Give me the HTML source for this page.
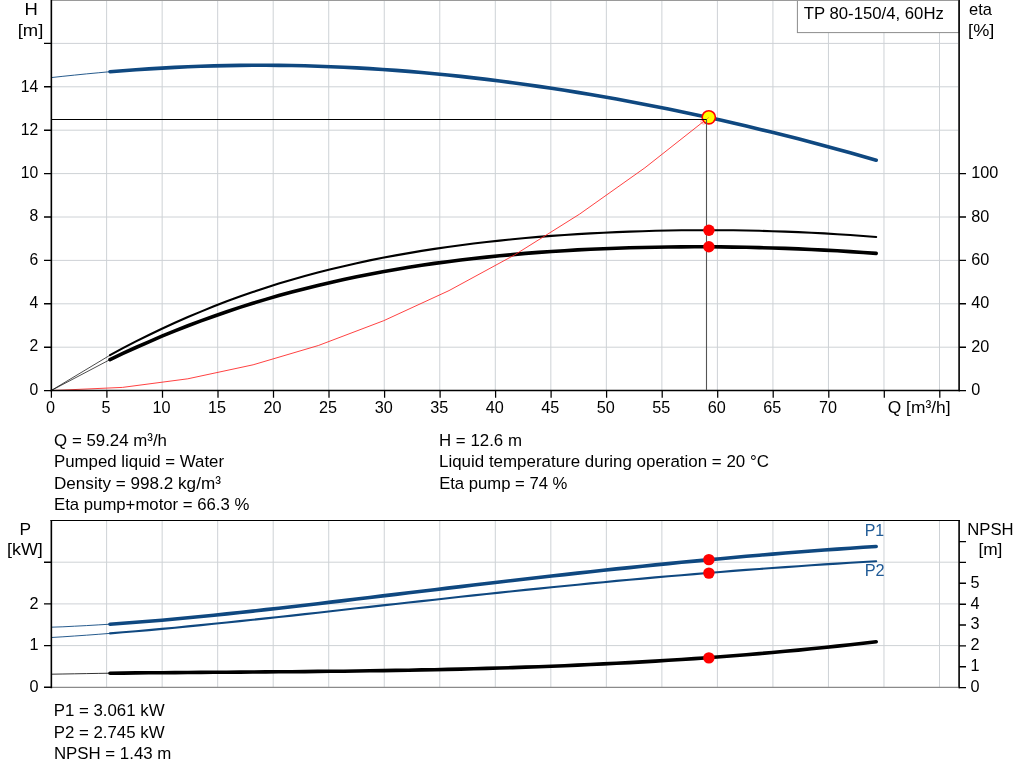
<!DOCTYPE html>
<html><head><meta charset="utf-8"><title>TP 80-150/4, 60Hz</title>
<style>html,body{margin:0;padding:0;background:#fff}svg{display:block}svg text{font-family:"Liberation Sans",Arial,sans-serif}</style></head>
<body>
<svg width="1024" height="781" viewBox="0 0 1024 781" font-size="17">
<rect width="1024" height="781" fill="#fff"/>
<path d="M106.62,1V390 M162.15,1V390 M217.68,1V390 M273.20,1V390 M328.73,1V390 M384.25,1V390 M439.78,1V390 M495.30,1V390 M550.83,1V390 M606.35,1V390 M661.88,1V390 M717.40,1V390 M772.93,1V390 M828.45,1V390 M883.98,1V390 M939.50,1V390 M52,347.20H958 M52,303.80H958 M52,260.40H958 M52,217.00H958 M52,173.60H958 M52,130.20H958 M52,86.80H958 M52,43.40H958" stroke="#ced2d6" stroke-width="1" fill="none"/>
<rect x="797.4" y="-1" width="161.6" height="33.6" fill="#fff" stroke="#8c8c8c" stroke-width="1"/>
<path d="M52,0.5H958" stroke="#9a9a9a" stroke-width="1" fill="none"/>
<text transform="translate(803.81,18.6) scale(0.9837,1)" fill="#000">TP 80-150/4, 60Hz</text>
<path d="M51.1,77.6 L62.9,76.3 L74.6,75.1 L86.4,73.9 L98.2,72.8 L110.0,71.7" stroke="#0f4880" stroke-width="0.9" fill="none"/>
<path d="M110.0,71.7 L122.9,70.7 L135.9,69.7 L148.9,68.9 L161.9,68.1 L174.9,67.4 L187.9,66.8 L200.9,66.3 L213.9,65.9 L226.8,65.6 L239.8,65.4 L252.8,65.3 L265.8,65.3 L278.8,65.4 L291.8,65.5 L304.8,65.8 L317.8,66.2 L330.7,66.7 L343.7,67.2 L356.7,67.9 L369.7,68.6 L382.7,69.5 L395.7,70.4 L408.7,71.4 L421.6,72.5 L434.6,73.7 L447.6,75.0 L460.6,76.4 L473.6,77.9 L486.6,79.4 L499.6,81.0 L512.6,82.7 L525.5,84.5 L538.5,86.4 L551.5,88.3 L564.5,90.3 L577.5,92.4 L590.5,94.6 L603.5,96.8 L616.5,99.1 L629.4,101.5 L642.4,103.9 L655.4,106.5 L668.4,109.1 L681.4,111.7 L694.4,114.5 L707.4,117.3 L720.4,120.1 L733.3,123.1 L746.3,126.1 L759.3,129.2 L772.3,132.3 L785.3,135.5 L798.3,138.8 L811.3,142.2 L824.3,145.7 L837.2,149.2 L850.2,152.8 L863.2,156.5 L876.2,160.2" stroke="#0f4880" stroke-width="3.6" stroke-linecap="round" fill="none"/>
<path d="M51.1,390.6L110.0,355.2M51.1,390.6L110.0,359.6" stroke="#000" stroke-width="0.7" fill="none"/>
<path d="M110.0,355.2 L122.9,348.2 L135.9,341.4 L148.9,335.0 L161.9,328.7 L174.9,322.8 L187.9,317.0 L200.9,311.6 L213.9,306.3 L226.8,301.3 L239.8,296.6 L252.8,292.1 L265.8,287.7 L278.8,283.6 L291.8,279.8 L304.8,276.1 L317.8,272.6 L330.7,269.3 L343.7,266.2 L356.7,263.2 L369.7,260.4 L382.7,257.8 L395.7,255.4 L408.7,253.1 L421.6,250.9 L434.6,248.9 L447.6,247.0 L460.6,245.2 L473.6,243.5 L486.6,242.0 L499.6,240.6 L512.6,239.3 L525.5,238.0 L538.5,236.9 L551.5,235.9 L564.5,235.0 L577.5,234.1 L590.5,233.4 L603.5,232.7 L616.5,232.1 L629.4,231.6 L642.4,231.2 L655.4,230.8 L668.4,230.5 L681.4,230.3 L694.4,230.2 L707.4,230.2 L720.4,230.2 L733.3,230.3 L746.3,230.5 L759.3,230.8 L772.3,231.2 L785.3,231.6 L798.3,232.1 L811.3,232.7 L824.3,233.4 L837.2,234.2 L850.2,235.0 L863.2,236.0 L876.2,237.0" stroke="#000" stroke-width="2.1" stroke-linecap="round" fill="none"/>
<path d="M110.0,359.6 L122.9,353.4 L135.9,347.5 L148.9,341.8 L161.9,336.2 L174.9,330.9 L187.9,325.8 L200.9,320.9 L213.9,316.2 L226.8,311.7 L239.8,307.4 L252.8,303.3 L265.8,299.4 L278.8,295.6 L291.8,292.1 L304.8,288.7 L317.8,285.5 L330.7,282.4 L343.7,279.5 L356.7,276.8 L369.7,274.2 L382.7,271.8 L395.7,269.5 L408.7,267.3 L421.6,265.3 L434.6,263.4 L447.6,261.7 L460.6,260.0 L473.6,258.5 L486.6,257.1 L499.6,255.8 L512.6,254.6 L525.5,253.4 L538.5,252.4 L551.5,251.5 L564.5,250.7 L577.5,249.9 L590.5,249.3 L603.5,248.7 L616.5,248.2 L629.4,247.8 L642.4,247.5 L655.4,247.2 L668.4,247.0 L681.4,246.9 L694.4,246.8 L707.4,246.8 L720.4,246.9 L733.3,247.1 L746.3,247.3 L759.3,247.6 L772.3,248.0 L785.3,248.4 L798.3,248.9 L811.3,249.5 L824.3,250.1 L837.2,250.8 L850.2,251.6 L863.2,252.5 L876.2,253.4" stroke="#000" stroke-width="3.6" stroke-linecap="round" fill="none"/>
<polyline points="51.1,390.6 122.5,387.4 187.8,378.8 253.1,364.8 318.4,345.5 383.7,320.7 449.0,290.6 514.3,255.1 579.6,214.1 644.9,167.8 709.0,117.2" stroke="#ff2020" stroke-width="0.85" fill="none"/>
<path d="M51.35,0V391.3M959.1,0V391.3" stroke="#000" stroke-width="1.6" fill="none"/>
<path d="M50.5,390.6H960" stroke="#000" stroke-width="1.5" fill="none"/>
<path d="M44,390.6H51 M44,347.2H51 M44,303.8H51 M44,260.4H51 M44,217.0H51 M44,173.6H51 M44,130.2H51 M44,86.8H51 M44,43.4H51 M959,390.6H966 M959,347.2H966 M959,303.8H966 M959,260.4H966 M959,217.0H966 M959,173.6H966" stroke="#000" stroke-width="1.4" fill="none"/>
<path d="M51.4,390V397.7 M106.9,390V397.7 M162.5,390V397.7 M218.0,390V397.7 M273.5,390V397.7 M329.0,390V397.7 M384.6,390V397.7 M440.1,390V397.7 M495.6,390V397.7 M551.1,390V397.7 M606.6,390V397.7 M662.2,390V397.7 M717.7,390V397.7 M773.2,390V397.7 M828.8,390V397.7 M884.3,390V397.7 M939.8,390V397.7" stroke="#000" stroke-width="1.25" fill="none"/>
<circle cx="703.6" cy="121.4" r="2.7" fill="none" stroke="#ff7070" stroke-width="0.7"/>
<circle cx="708.8" cy="117.3" r="6.6" fill="#ffff00" stroke="#ff0000" stroke-width="1.6"/>
<path d="M706.4,119.6L708.8,117.3" stroke="#ff6030" stroke-width="0.8"/>
<path d="M52,119.5H706.9" stroke="#000" stroke-width="1.1" fill="none"/>
<path d="M706.5,119.5V390" stroke="#555" stroke-width="1.1" fill="none"/>
<circle cx="708.9" cy="230.2" r="5.7" fill="#ff0000"/>
<circle cx="708.9" cy="246.8" r="5.7" fill="#ff0000"/>
<text transform="translate(24.38,14.7) scale(1.0842,1)" fill="#000">H</text>
<text transform="translate(17.70,35.9) scale(1.0849,1)" fill="#000">[m]</text>
<text transform="translate(38.2,394.5) scale(0.925,1)" text-anchor="end" fill="#000">0</text>
<text transform="translate(38.2,351.2) scale(0.925,1)" text-anchor="end" fill="#000">2</text>
<text transform="translate(38.2,307.9) scale(0.925,1)" text-anchor="end" fill="#000">4</text>
<text transform="translate(38.2,264.7) scale(0.925,1)" text-anchor="end" fill="#000">6</text>
<text transform="translate(38.2,221.4) scale(0.925,1)" text-anchor="end" fill="#000">8</text>
<text transform="translate(38.2,178.1) scale(0.925,1)" text-anchor="end" fill="#000">10</text>
<text transform="translate(38.2,134.8) scale(0.925,1)" text-anchor="end" fill="#000">12</text>
<text transform="translate(38.2,91.5) scale(0.925,1)" text-anchor="end" fill="#000">14</text>
<text transform="translate(50.5,412.7) scale(0.955,1)" text-anchor="middle" fill="#000">0</text>
<text transform="translate(106.0,412.7) scale(0.955,1)" text-anchor="middle" fill="#000">5</text>
<text transform="translate(161.6,412.7) scale(0.955,1)" text-anchor="middle" fill="#000">10</text>
<text transform="translate(217.1,412.7) scale(0.955,1)" text-anchor="middle" fill="#000">15</text>
<text transform="translate(272.6,412.7) scale(0.955,1)" text-anchor="middle" fill="#000">20</text>
<text transform="translate(328.1,412.7) scale(0.955,1)" text-anchor="middle" fill="#000">25</text>
<text transform="translate(383.7,412.7) scale(0.955,1)" text-anchor="middle" fill="#000">30</text>
<text transform="translate(439.2,412.7) scale(0.955,1)" text-anchor="middle" fill="#000">35</text>
<text transform="translate(494.7,412.7) scale(0.955,1)" text-anchor="middle" fill="#000">40</text>
<text transform="translate(550.2,412.7) scale(0.955,1)" text-anchor="middle" fill="#000">45</text>
<text transform="translate(605.8,412.7) scale(0.955,1)" text-anchor="middle" fill="#000">50</text>
<text transform="translate(661.3,412.7) scale(0.955,1)" text-anchor="middle" fill="#000">55</text>
<text transform="translate(716.8,412.7) scale(0.955,1)" text-anchor="middle" fill="#000">60</text>
<text transform="translate(772.3,412.7) scale(0.955,1)" text-anchor="middle" fill="#000">65</text>
<text transform="translate(827.9,412.7) scale(0.955,1)" text-anchor="middle" fill="#000">70</text>
<text transform="translate(887.78,413.0) scale(1.0219,1)" fill="#000">Q [m³/h]</text>
<text transform="translate(969.12,14.7) scale(0.9696,1)" fill="#000">eta</text>
<text transform="translate(968.12,35.9) scale(1.0679,1)" fill="#000">[%]</text>
<text transform="translate(971.2,395.2) scale(0.955,1)" text-anchor="start" fill="#000">0</text>
<text transform="translate(971.2,351.8) scale(0.955,1)" text-anchor="start" fill="#000">20</text>
<text transform="translate(971.2,308.4) scale(0.955,1)" text-anchor="start" fill="#000">40</text>
<text transform="translate(971.2,265.0) scale(0.955,1)" text-anchor="start" fill="#000">60</text>
<text transform="translate(971.2,221.6) scale(0.955,1)" text-anchor="start" fill="#000">80</text>
<text transform="translate(971.2,178.2) scale(0.955,1)" text-anchor="start" fill="#000">100</text>
<text transform="translate(54.11,445.9) scale(0.9920,1)" fill="#000">Q = 59.24 m³/h</text>
<text transform="translate(54.01,467.2) scale(0.9900,1)" fill="#000">Pumped liquid = Water</text>
<text transform="translate(53.99,488.5) scale(1.0067,1)" fill="#000">Density = 998.2 kg/m³</text>
<text transform="translate(54.02,509.8) scale(0.9847,1)" fill="#000">Eta pump+motor = 66.3 %</text>
<text transform="translate(439.01,445.9) scale(0.9926,1)" fill="#000">H = 12.6 m</text>
<text transform="translate(439.01,467.2) scale(0.9964,1)" fill="#000">Liquid temperature during operation = 20 °C</text>
<text transform="translate(439.13,488.5) scale(0.9806,1)" fill="#000">Eta pump = 74 %</text>
<path d="M106.62,521V687 M162.15,521V687 M217.68,521V687 M273.20,521V687 M328.73,521V687 M384.25,521V687 M439.78,521V687 M495.30,521V687 M550.83,521V687 M606.35,521V687 M661.88,521V687 M717.40,521V687 M772.93,521V687 M828.45,521V687 M883.98,521V687 M939.50,521V687 M52,645.60H958 M52,603.90H958 M52,562.20H958" stroke="#ced2d6" stroke-width="1" fill="none"/>
<path d="M52,687.4H958" stroke="#8a8a8a" stroke-width="1.1" fill="none"/>
<path d="M51.1,627.2 L62.9,626.8 L74.6,626.2 L86.4,625.6 L98.2,624.9 L110.0,624.2" stroke="#0f4880" stroke-width="0.9" fill="none"/>
<path d="M51.1,637.5 L62.9,636.8 L74.6,636.0 L86.4,635.2 L98.2,634.3 L110.0,633.4" stroke="#0f4880" stroke-width="0.9" fill="none"/>
<path d="M51.1,674.2 L62.9,674.0 L74.6,673.8 L86.4,673.6 L98.2,673.4 L110.0,673.2" stroke="#000" stroke-width="0.8" fill="none"/>
<path d="M110.0,624.2 L122.9,623.3 L135.9,622.3 L148.9,621.3 L161.9,620.2 L174.9,619.0 L187.9,617.8 L200.9,616.5 L213.9,615.2 L226.8,613.9 L239.8,612.5 L252.8,611.1 L265.8,609.6 L278.8,608.2 L291.8,606.7 L304.8,605.2 L317.8,603.7 L330.7,602.1 L343.7,600.6 L356.7,599.0 L369.7,597.5 L382.7,595.9 L395.7,594.4 L408.7,592.8 L421.6,591.2 L434.6,589.7 L447.6,588.1 L460.6,586.6 L473.6,585.0 L486.6,583.5 L499.6,582.0 L512.6,580.5 L525.5,579.0 L538.5,577.5 L551.5,576.0 L564.5,574.6 L577.5,573.1 L590.5,571.7 L603.5,570.3 L616.5,568.9 L629.4,567.6 L642.4,566.2 L655.4,564.9 L668.4,563.6 L681.4,562.3 L694.4,561.1 L707.4,559.9 L720.4,558.7 L733.3,557.5 L746.3,556.3 L759.3,555.2 L772.3,554.1 L785.3,553.0 L798.3,552.0 L811.3,551.0 L824.3,550.0 L837.2,549.1 L850.2,548.2 L863.2,547.3 L876.2,546.5" stroke="#0f4880" stroke-width="3.6" stroke-linecap="round" fill="none"/>
<path d="M110.0,633.4 L122.9,632.3 L135.9,631.2 L148.9,630.1 L161.9,628.9 L174.9,627.7 L187.9,626.4 L200.9,625.1 L213.9,623.8 L226.8,622.5 L239.8,621.1 L252.8,619.8 L265.8,618.4 L278.8,617.0 L291.8,615.6 L304.8,614.1 L317.8,612.7 L330.7,611.2 L343.7,609.8 L356.7,608.3 L369.7,606.9 L382.7,605.4 L395.7,604.0 L408.7,602.5 L421.6,601.1 L434.6,599.7 L447.6,598.2 L460.6,596.8 L473.6,595.4 L486.6,594.0 L499.6,592.6 L512.6,591.3 L525.5,589.9 L538.5,588.6 L551.5,587.3 L564.5,586.0 L577.5,584.7 L590.5,583.4 L603.5,582.2 L616.5,580.9 L629.4,579.7 L642.4,578.6 L655.4,577.4 L668.4,576.3 L681.4,575.2 L694.4,574.1 L707.4,573.0 L720.4,572.0 L733.3,570.9 L746.3,569.9 L759.3,569.0 L772.3,568.0 L785.3,567.1 L798.3,566.2 L811.3,565.3 L824.3,564.4 L837.2,563.6 L850.2,562.8 L863.2,562.0 L876.2,561.2" stroke="#0f4880" stroke-width="2.1" stroke-linecap="round" fill="none"/>
<path d="M110.0,673.2 L122.9,673.1 L135.9,672.9 L148.9,672.8 L161.9,672.7 L174.9,672.6 L187.9,672.5 L200.9,672.4 L213.9,672.3 L226.8,672.2 L239.8,672.1 L252.8,672.0 L265.8,671.9 L278.8,671.8 L291.8,671.7 L304.8,671.6 L317.8,671.4 L330.7,671.3 L343.7,671.2 L356.7,671.0 L369.7,670.8 L382.7,670.6 L395.7,670.4 L408.7,670.2 L421.6,669.9 L434.6,669.7 L447.6,669.4 L460.6,669.1 L473.6,668.7 L486.6,668.4 L499.6,668.0 L512.6,667.6 L525.5,667.1 L538.5,666.7 L551.5,666.2 L564.5,665.7 L577.5,665.1 L590.5,664.5 L603.5,663.9 L616.5,663.3 L629.4,662.6 L642.4,661.9 L655.4,661.1 L668.4,660.3 L681.4,659.5 L694.4,658.6 L707.4,657.7 L720.4,656.8 L733.3,655.8 L746.3,654.7 L759.3,653.6 L772.3,652.5 L785.3,651.3 L798.3,650.1 L811.3,648.8 L824.3,647.5 L837.2,646.1 L850.2,644.7 L863.2,643.2 L876.2,641.7" stroke="#000" stroke-width="3.6" stroke-linecap="round" fill="none"/>
<path d="M50.5,520.5H960" stroke="#000" stroke-width="1.2" fill="none"/>
<path d="M51.35,520V688.2M959.1,520V688.2" stroke="#000" stroke-width="1.6" fill="none"/>
<path d="M44,687.3H51 M44,645.6H51 M44,603.9H51 M44,562.2H51 M959,687.6H966 M959,666.7H966 M959,645.9H966 M959,625.0H966 M959,604.2H966 M959,583.3H966 M959,562.4H966 M959,541.6H966" stroke="#000" stroke-width="1.4" fill="none"/>
<circle cx="708.9" cy="559.6" r="5.7" fill="#ff0000"/>
<circle cx="708.9" cy="573.1" r="5.7" fill="#ff0000"/>
<circle cx="708.9" cy="657.9" r="5.7" fill="#ff0000"/>
<text transform="translate(864.68,535.8) scale(0.9405,1)" fill="#1f5a96">P1</text>
<text transform="translate(864.65,576.4) scale(0.9622,1)" fill="#1f5a96">P2</text>
<text transform="translate(19.47,534.6) scale(1.0220,1)" fill="#000">P</text>
<text transform="translate(6.93,555.3) scale(1.0570,1)" fill="#000">[kW]</text>
<text transform="translate(38.5,691.9) scale(0.955,1)" text-anchor="end" fill="#000">0</text>
<text transform="translate(38.5,650.2) scale(0.955,1)" text-anchor="end" fill="#000">1</text>
<text transform="translate(38.5,608.5) scale(0.955,1)" text-anchor="end" fill="#000">2</text>
<text transform="translate(967.33,534.6) scale(0.9820,1)" fill="#000">NPSH</text>
<text transform="translate(978.38,555.3) scale(1.0189,1)" fill="#000">[m]</text>
<text transform="translate(970.6,692.0) scale(0.955,1)" text-anchor="start" fill="#000">0</text>
<text transform="translate(970.6,671.1) scale(0.955,1)" text-anchor="start" fill="#000">1</text>
<text transform="translate(970.6,650.3) scale(0.955,1)" text-anchor="start" fill="#000">2</text>
<text transform="translate(970.6,629.4) scale(0.955,1)" text-anchor="start" fill="#000">3</text>
<text transform="translate(970.6,608.6) scale(0.955,1)" text-anchor="start" fill="#000">4</text>
<text transform="translate(970.6,587.7) scale(0.955,1)" text-anchor="start" fill="#000">5</text>
<text transform="translate(53.71,715.9) scale(0.9910,1)" fill="#000">P1 = 3.061 kW</text>
<text transform="translate(53.71,737.5) scale(0.9910,1)" fill="#000">P2 = 2.745 kW</text>
<text transform="translate(53.91,758.9) scale(0.9914,1)" fill="#000">NPSH = 1.43 m</text>
</svg>
</body></html>
